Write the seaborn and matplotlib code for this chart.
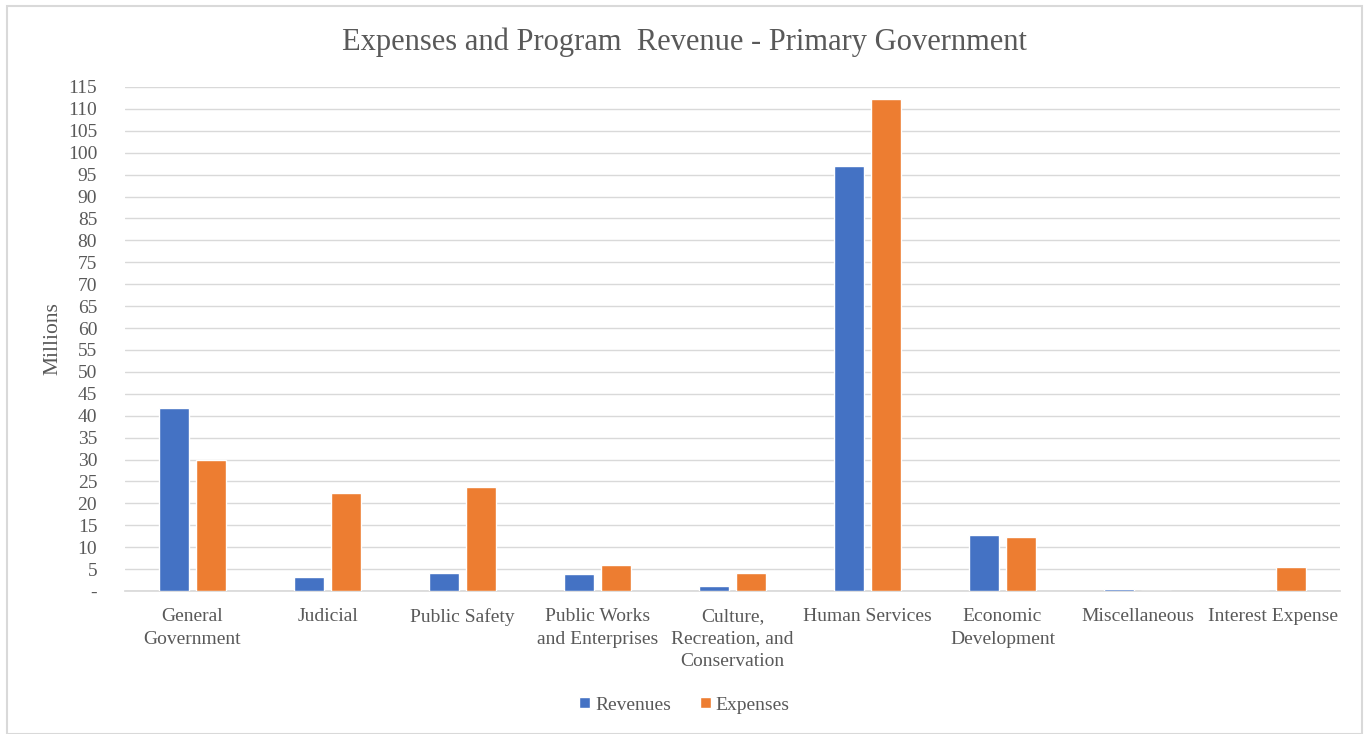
import matplotlib
matplotlib.use("Agg")
import matplotlib.pyplot as plt
import seaborn as sns
import pandas as pd
from matplotlib.patches import Rectangle

categories = ["General\nGovernment", "Judicial", "Public Safety",
              "Public Works\nand Enterprises", "Culture,\nRecreation, and\nConservation",
              "Human Services", "Economic\nDevelopment", "Miscellaneous", "Interest Expense"]
revenues = [41.7, 3.3, 4.0, 3.8, 1.1, 96.9, 12.85, 0.45, 0.0]
expenses = [30.0, 22.4, 23.65, 5.9, 4.0, 112.2, 12.4, 0.0, 5.4]
series = ["Revenues", "Expenses"]
yticks = list(range(0, 116, 5))

df = pd.DataFrame({
    "category": categories * 2,
    "value": revenues + expenses,
    "series": [series[0]] * len(categories) + [series[1]] * len(categories),
})

sns.set_theme(style="white")
plt.rcParams["font.family"] = ["Liberation Serif", "DejaVu Serif"]

txt = "#595959"
fig = plt.figure(figsize=(13.69, 7.34), dpi=100)
ax = fig.add_axes([125/1369, 1-591/734, (1340-125)/1369, (591-87)/734])

sns.barplot(data=df, x="category", y="value", hue="series", order=categories,
            hue_order=series, palette=["#4472C4", "#ED7D31"], width=0.56, gap=0.21,
            ax=ax, legend=True, saturation=1, zorder=3)

ax.set_ylim(0, 115)
ax.set_xlim(-0.5, len(categories) - 0.5)
ax.set_yticks(yticks)
ax.set_yticklabels(["-" if v == 0 else str(v) for v in yticks])
ax.yaxis.grid(True, color="#D9D9D9", linewidth=1)
ax.set_axisbelow(True)
for s in ["top", "right", "left"]:
    ax.spines[s].set_visible(False)
ax.spines["bottom"].set_color("#D9D9D9")
ax.spines["bottom"].set_zorder(1)
ax.tick_params(axis="both", length=0, labelcolor=txt, labelsize=14)
ax.tick_params(axis="y", pad=20)
ax.tick_params(axis="x", pad=12)
for lbl in ax.get_xticklabels():
    lbl.set_linespacing(1.45)
ax.set_xlabel("")
ax.set_ylabel("Millions", color=txt, fontsize=15.5, labelpad=4)

fig.text(0.5, 1-42/734, "Expenses and Program  Revenue - Primary Government",
         ha="center", va="center", fontsize=22, color=txt)

leg = ax.legend(loc="center", bbox_to_anchor=(0.5, (734-705)/734), bbox_transform=fig.transFigure,
                ncol=2, frameon=False, fontsize=14, handlelength=0.55, handleheight=0.55,
                handletextpad=0.25, columnspacing=1.5)
for t in leg.get_texts():
    t.set_color(txt)

fig.patches.append(Rectangle((7/1369, 0), 1-14/1369, 1-6/734, transform=fig.transFigure,
                             fill=False, edgecolor="#D9D9D9", linewidth=1.5))

fig.savefig("out.png", dpi=100)
